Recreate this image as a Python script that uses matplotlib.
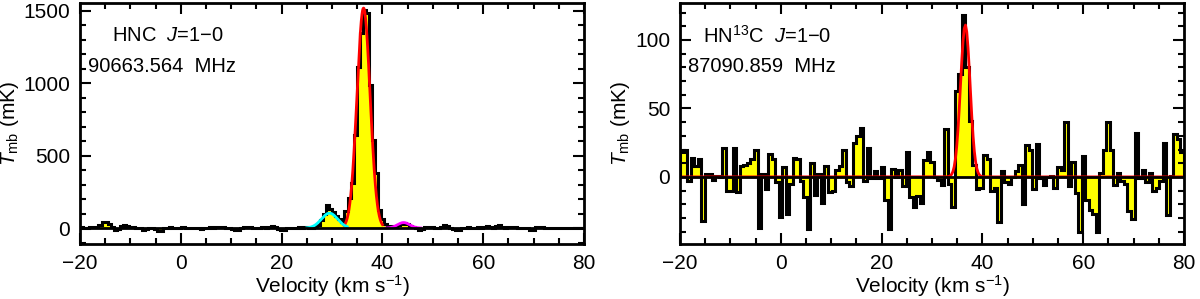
import numpy as np
import matplotlib.pyplot as plt
from matplotlib.ticker import MultipleLocator

plt.rcParams['font.family'] = ['Liberation Sans', 'DejaVu Sans']
plt.rcParams['mathtext.fontset'] = 'custom'
plt.rcParams['mathtext.rm'] = 'Liberation Sans'
plt.rcParams['mathtext.it'] = 'Liberation Sans:italic'

# HNC J=1-0 spectrum (channel start / width in km/s, Tmb in mK)
hnc_v0 = -20.0
hnc_dv = 0.61
hnc_tmb = [
    5, 3, 0, 6, 4, 8, 20, 42, 40, 25, 5, -15, -5, 15, 18, 12, 5, 6, 3, 0,
    -10, -8, 2, 0, -5, -22, -20, -3, 2, 5, 3, 0, 2, 4, 1, -2, -3, 2, 0, -4,
    0, 3, 5, 2, 4, 8, 10, 3, 0, -5, -14, -12, 0, 4, 6, 8, 3, 0, 2, 4,
    3, 6, 15, 10, -5, -15, -12, 0, 3, 2, 0, 4, 2, 5, 3, 2, 10, 22, 55, 95,
    160, 135, 110, 80, 60, 45, 120, 210, 310, 640, 1115, 1345, 1510, 1485, 990, 610, 380, 125, 60, 25,
    15, 10, 12, 20, 28, 35, 30, 15, 5, -2, -10, -5, 5, 10, 8, 0, 2, 5, 18, 15,
    0, -5, -15, -12, -3, 2, 5, 0, 3, 8, 2, 10, 12, 5, 0, 15, 18, 5, 2, 8,
    10, 6, 3, 0, 2, -3, -15, -10, 8, 10, 4, 0, 2, -2, 0, 3, 1, -1, 2, 0,
    1, 3, 0, 2, 1,
]

# HN13C J=1-0 spectrum
hn13c_v0 = -20.0
hn13c_dv = 0.699
hn13c_tmb = [
    18, 20, -3, 14, 8, 13, -32, 2, 2, -2, 1, 0, 21, -10, -10, 21, -11, 8, 9, 10,
    13, 20, -37, 2, -9, 17, 13, -4, -29, 7, -27, -5, 14, 13, -3, -15, -38, 10, -13, 2,
    -19, 8, -11, -10, 5, 8, 20, -4, -7, 25, 30, 36, -3, 21, -1, 4, -1, 7, -17, -38,
    6, 0, 5, -7, 18, -15, -22, -14, -19, 12, 18, 11, 0, -2, -6, 35, -5, -22, 63, 75,
    118, 80, 41, 9, -9, -8, 16, 13, -10, -8, -33, 4, -4, -5, 0, 4, 9, -20, 23, 20,
    -9, 24, -1, -6, 0, 1, -8, 7, 5, 40, -7, 11, -12, -40, 15, -17, -24, -27, -40, 3,
    20, 40, 20, -6, 3, -3, -5, -25, -31, 32, -1, 5, -4, 3, -10, -8, -3, 25, -28, 1,
    31, 28, 18,
]

# Gaussian fit components: amplitude (mK), centre, sigma (km/s), drawn range
hnc_fit_amp = [1520, 103, 38]
hnc_fit_cen = [36.25, 29.5, 44.2]
hnc_fit_sig = [1.3, 1.6, 1.2]
hnc_fit_rng = [(32.4, 40.0), (25.0, 33.0), (40.7, 47.6)]
hnc_fit_col = ['red', 'cyan', 'magenta']

hn13c_fit_amp = [111]
hn13c_fit_cen = [36.6]
hn13c_fit_sig = [0.95]
hn13c_fit_rng = [(-20.0, 80.0)]
hn13c_fit_col = ['red']

fig = plt.figure(figsize=(12, 2.99), dpi=100)
ax1 = fig.add_axes([0.0667, 0.184, 0.42, 0.806])
ax2 = fig.add_axes([0.5667, 0.184, 0.42, 0.806])


def draw_panel(ax, v0, dv, tmb, amps, cens, sigs, rngs, cols, ylim, ymaj, ymin):
    tmb = np.array(tmb, dtype=float)
    edges = v0 + dv * np.arange(len(tmb) + 1)
    ax.stairs(tmb, edges, fill=True, baseline=0, color='yellow', zorder=1)
    ax.stairs(tmb, edges, baseline=0, color='black', lw=2.2, zorder=2)
    for a, c, s, r, col in zip(amps, cens, sigs, rngs, cols):
        x = np.linspace(r[0], r[1], 400)
        ax.plot(x, a * np.exp(-0.5 * ((x - c) / s) ** 2), color=col, lw=2, zorder=2.5)
    ax.axhline(0, color='black', lw=2, zorder=3)
    ax.set_xlim(-20, 80)
    ax.set_ylim(*ylim)
    ax.xaxis.set_major_locator(MultipleLocator(20))
    ax.xaxis.set_minor_locator(MultipleLocator(5))
    ax.yaxis.set_major_locator(MultipleLocator(ymaj))
    ax.yaxis.set_minor_locator(MultipleLocator(ymin))
    ax.tick_params(which='both', direction='in', top=True, right=True, width=1.5,
                   labelsize=15, pad=7)
    ax.tick_params(which='major', length=8)
    ax.tick_params(which='minor', length=4)
    for sp in ax.spines.values():
        sp.set_linewidth(2)
    ax.set_xlabel('Velocity (km s$^{-1}$)', fontsize=15, labelpad=0)
    ax.set_ylabel('$T_{\\rm mb}$ (mK)', fontsize=15, labelpad=2)


draw_panel(ax1, hnc_v0, hnc_dv, hnc_tmb, hnc_fit_amp, hnc_fit_cen, hnc_fit_sig,
           hnc_fit_rng, hnc_fit_col, (-110, 1555), 500, 100)
draw_panel(ax2, hn13c_v0, hn13c_dv, hn13c_tmb, hn13c_fit_amp, hn13c_fit_cen,
           hn13c_fit_sig, hn13c_fit_rng, hn13c_fit_col, (-49, 127), 50, 10)

ax1.text(0.063, 0.865, 'HNC  $J$=1\u22120', transform=ax1.transAxes, fontsize=14.5,
         va='center', ha='left')
ax1.text(0.016, 0.735, '90663.564  MHz', transform=ax1.transAxes, fontsize=14.5,
         va='center', ha='left')
ax2.text(0.045, 0.865, 'HN$^{13}$C  $J$=1\u22120', transform=ax2.transAxes, fontsize=14.5,
         va='center', ha='left')
ax2.text(0.016, 0.735, '87090.859  MHz', transform=ax2.transAxes, fontsize=14.5,
         va='center', ha='left')

fig.savefig('out.png', dpi=100)
